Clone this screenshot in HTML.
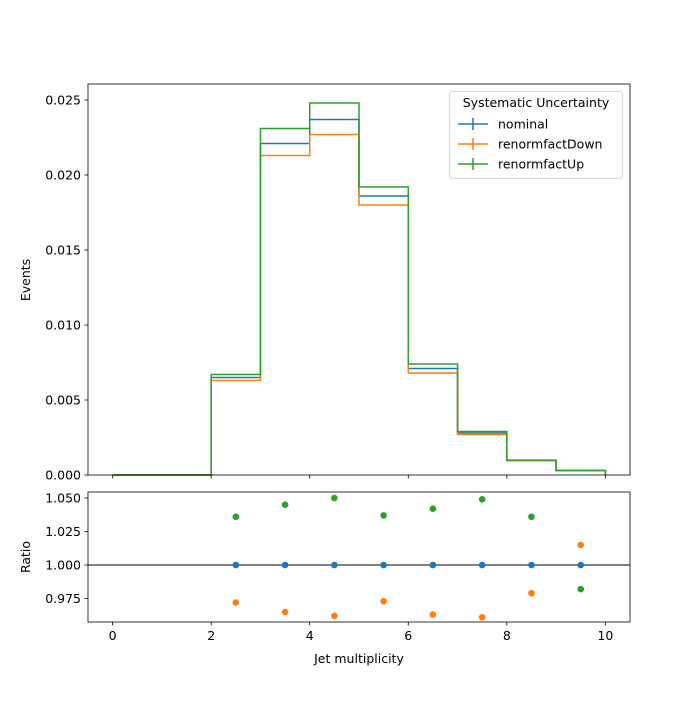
<!DOCTYPE html>
<html><head><meta charset="utf-8"><style>
body{margin:0;background:#fff}
svg{font-family:"DejaVu Sans","Liberation Sans",sans-serif}
</style></head><body>
<svg id="c" width="700" height="700" viewBox="0 0 700 700">
<rect width="700" height="700" fill="#fff"/>
<g id="g"></g>
</svg>
<script>
const edges=[0,1,2,3,4,5,6,7,8,9,10];
const nominal=[0,0,0.0065,0.0221,0.0237,0.0186,0.0071,0.0028,0.00097,0.0003];
const down=[0,0,0.0063,0.0213,0.0227,0.0180,0.0068,0.0027,0.00095,0.0003];
const up=[0,0,0.0067,0.0231,0.0248,0.0192,0.0074,0.0029,0.00099,0.0003];
const ratioX=[2.5,3.5,4.5,5.5,6.5,7.5,8.5,9.5];
const ratioNom=[1,1,1,1,1,1,1,1];
const ratioUp=[1.036,1.045,1.050,1.037,1.042,1.049,1.036,0.982];
const ratioDown=[0.972,0.965,0.962,0.973,0.963,0.961,0.979,1.015];
const xTicks=[0,2,4,6,8,10];
const yTicks=[0,0.005,0.010,0.015,0.020,0.025];
const rTicks=[0.975,1.000,1.025,1.050];
const series=[{n:'nominal',v:nominal,c:'#1f77b4'},{n:'renormfactDown',v:down,c:'#ff7f0e'},{n:'renormfactUp',v:up,c:'#2ca02c'}];

const NS='http://www.w3.org/2000/svg';const G=document.getElementById('g');
function el(t,a,p){const e=document.createElementNS(NS,t);for(const k in a)e.setAttribute(k,a[k]);(p||G).appendChild(e);return e;}
const X=v=>88+(v+0.5)*(542/11);
const Y=v=>475-v*15000;
const R=v=>565-(v-1)*1340;
const FS=12.5;

series.forEach(s=>{
  let d='M'+X(edges[0])+','+Y(s.v[0]);
  for(let i=0;i<s.v.length;i++){d+=' L'+X(edges[i])+','+Y(s.v[i])+' L'+X(edges[i+1])+','+Y(s.v[i]);}
  d+=' L'+X(edges[edges.length-1])+','+Y(0);
  const p=el('path',{d:d,fill:'none',stroke:s.c,'stroke-width':1.5});
  
  
});
const ax=el('rect',{x:88,y:84,width:542,height:391,fill:'none',stroke:'#000','stroke-width':0.8});


xTicks.forEach(t=>{el('line',{x1:X(t),x2:X(t),y1:475,y2:478.5,stroke:'#000','stroke-width':0.8});});
yTicks.forEach(t=>{el('line',{x1:84.5,x2:88,y1:Y(t),y2:Y(t),stroke:'#000','stroke-width':0.8});
  const tx=el('text',{x:81,y:Y(t)+4.5,'text-anchor':'end','font-size':FS});tx.textContent=t.toFixed(3);
  
  });
const yl=el('text',{x:30,y:280,'text-anchor':'middle','font-size':FS,transform:'rotate(-90 30 280)'});yl.textContent='Events';



const lg=el('g',{});


el('rect',{x:449.5,y:91.5,width:173,height:87,rx:3,fill:'#fff',stroke:'#ccc','stroke-width':0.8},lg);
const lt=el('text',{x:536,y:107,'text-anchor':'middle','font-size':FS},lg);lt.textContent='Systematic Uncertainty';
series.forEach((s,i)=>{const y=124+i*20;
  const eg=el('g',{},lg);
  
  
  el('line',{x1:458,x2:488,y1:y,y2:y,stroke:s.c,'stroke-width':1.5},eg);
  el('line',{x1:473,x2:473,y1:y-6,y2:y+6,stroke:s.c,'stroke-width':1.5},eg);
  const t=el('text',{x:498,y:y+4.5,'font-size':FS},eg);t.textContent=s.n;});

el('line',{x1:88,x2:630,y1:R(1),y2:R(1),stroke:'#000','stroke-width':1});
[[ratioNom,'#1f77b4','nominal'],[ratioDown,'#ff7f0e','down'],[ratioUp,'#2ca02c','up']].forEach(([arr,c,n])=>{
  arr.forEach((v,i)=>{const p=el('circle',{cx:X(ratioX[i]),cy:R(v),r:3.3,fill:c});
    
    });
});
const rx=el('rect',{x:88,y:492,width:542,height:130,fill:'none',stroke:'#000','stroke-width':0.8});


xTicks.forEach(t=>{el('line',{x1:X(t),x2:X(t),y1:622,y2:625.5,stroke:'#000','stroke-width':0.8});
  const tx=el('text',{x:X(t),y:640,'text-anchor':'middle','font-size':FS});tx.textContent=t;
  
  });
rTicks.forEach(t=>{el('line',{x1:84.5,x2:88,y1:R(t),y2:R(t),stroke:'#000','stroke-width':0.8});
  const tx=el('text',{x:81,y:R(t)+4.5,'text-anchor':'end','font-size':FS});tx.textContent=t.toFixed(3);
  
  });
const rl=el('text',{x:30,y:557,'text-anchor':'middle','font-size':FS,transform:'rotate(-90 30 557)'});rl.textContent='Ratio';


const xl=el('text',{x:359,y:663,'text-anchor':'middle','font-size':FS});xl.textContent='Jet multiplicity';


</script>
</body></html>
